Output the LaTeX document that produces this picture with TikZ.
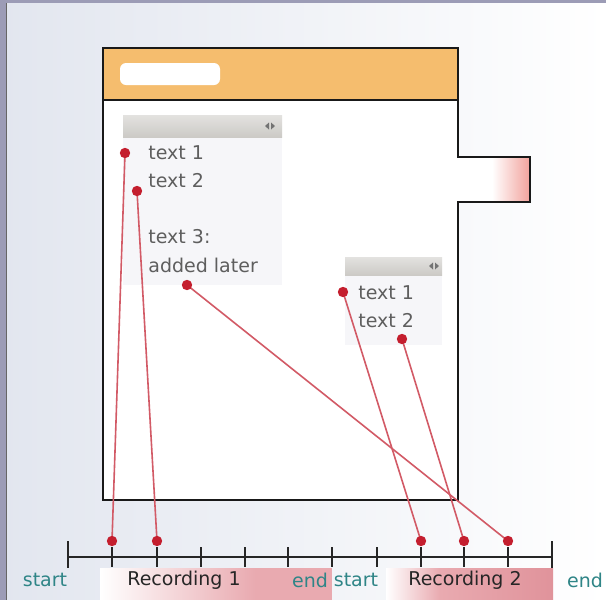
\documentclass[tikz,border=0pt]{standalone}
\usepackage{fontspec}
\setmainfont{DejaVu Sans}
\definecolor{frameblue}{HTML}{9C9CB6}
\definecolor{bgblue}{HTML}{E2E6EF}
\definecolor{headorange}{HTML}{F5BD6E}
\definecolor{tabpink}{HTML}{F2A29C}
\definecolor{dotred}{HTML}{C41E2E}
\definecolor{linkred}{HTML}{D25A66}
\definecolor{bandpink}{HTML}{E9AAB0}
\definecolor{banddark}{HTML}{E0939B}
\definecolor{tealtext}{HTML}{2F8587}
\definecolor{bargrey}{HTML}{CCCAC6}
\definecolor{panelbg}{HTML}{F6F6F9}
\definecolor{itemgrey}{HTML}{5E5E5E}
\tikzset{
  itemtext/.style={anchor=west, inner sep=0pt, text=itemgrey, font=\fontsize{9.5}{11}\selectfont},
  marktext/.style={inner sep=0pt, text=tealtext, font=\fontsize{9.5}{11}\selectfont},
  rectext/.style={inner sep=0pt, text=black!85, font=\fontsize{9.5}{11}\selectfont},
  link/.style={linkred, line width=0.8pt},
  dot/.style={fill=dotred},
  panelbar/.style={top color=bargrey!55, bottom color=bargrey},
}
\begin{document}
\begin{tikzpicture}[x=0.5pt,y=-0.5pt]
  \useasboundingbox (0,0) rectangle (606,600);
  % Background and frame
  \shade[left color=bgblue, right color=white] (0,0) rectangle (606,600);
  \fill[frameblue] (0,0) rectangle (606,3);
  \fill[frameblue] (0,0) rectangle (6,600);
  \draw[black!60, line width=0.4pt] (6,3) -- (6,600);

  % Window with tab
  \fill[white] (103,48) rectangle (458,500);
  \fill[white] (458,157) rectangle (492,202);
  \shade[left color=white, right color=tabpink] (492,157) rectangle (530,202);
  \fill[headorange] (103,48) rectangle (458,100);
  \fill[white, rounded corners=3pt] (120,63) rectangle (220,85);
  \draw[line width=0.9pt, black!90] (103,48) -- (458,48) -- (458,157) -- (530,157)
    -- (530,202) -- (458,202) -- (458,500) -- (103,500) -- cycle;
  \draw[line width=0.9pt, black!90] (103,100) -- (458,100);

  % Panel 1
  \fill[panelbg] (123,137) rectangle (282,285);
  \shade[panelbar] (123,115) rectangle (282,137);
  \fill[black!55] (265,126) -- (269,122.5) -- (269,129.5) -- cycle;
  \fill[black!55] (275,126) -- (271,122.5) -- (271,129.5) -- cycle;
  \node[itemtext] (a1) at (148,153) {text 1};
  \node[itemtext] (a2) at (148,181) {text 2};
  \node[itemtext] (a3) at (148,237) {text 3:};
  \node[itemtext] (a4) at (148,265) {added later};

  % Panel 2
  \fill[panelbg] (345,275) rectangle (442,345);
  \shade[panelbar] (345,257) rectangle (442,275);
  \fill[black!55] (429,266) -- (433,262.5) -- (433,269.5) -- cycle;
  \fill[black!55] (439,266) -- (435,262.5) -- (435,269.5) -- cycle;
  \node[itemtext] (b1) at (358,293) {text 1};
  \node[itemtext] (b2) at (358,321) {text 2};

  % Recording bands
  \shade[left color=white, right color=bandpink] (100,568) rectangle (255,600);
  \fill[bandpink] (255,568) rectangle (332,600);
  \shade[left color=white, right color=bandpink] (386,568) rectangle (440,600);
  \shade[left color=bandpink, right color=banddark] (440,568) rectangle (553,600);

  % Timeline
  \draw[line width=0.7pt, black!85] (68,557) -- (552,557);
  \draw[line width=0.7pt, black!85] (68,541) -- (68,568);
  \draw[line width=0.7pt, black!85] (552,541) -- (552,568);
  \foreach \x in {112,157,201,245,288,332,377,421,464,508}
    \draw[line width=0.7pt, black!85] (\x,547) -- (\x,567);

  \node[marktext] (s1) at (45,580) {start};
  \node[rectext] (r1) at (184,580) {Recording 1};
  \node[marktext] (e1) at (310,580) {end};
  \node[marktext] (s2) at (356,580) {start};
  \node[rectext] (r2) at (465,580) {Recording 2};
  \node[marktext] (e2) at (585,580) {end};

  % Anchor points
  \coordinate (pa1) at (125,153);
  \coordinate (pa2) at (137,191);
  \coordinate (pa3) at (187,285);
  \coordinate (pb1) at (343,292);
  \coordinate (pb2) at (402,339);
  \coordinate (ta1) at (112,541);
  \coordinate (ta2) at (157,541);
  \coordinate (ta3) at (508,541);
  \coordinate (tb1) at (421,541);
  \coordinate (tb2) at (464,541);

  % Links
  \draw[link] (pa1) -- (ta1);
  \draw[link] (pa2) -- (ta2);
  \draw[link] (pa3) -- (ta3);
  \draw[link] (pb1) -- (tb1);
  \draw[link] (pb2) -- (tb2);
  \foreach \p in {pa1,pa2,pa3,pb1,pb2,ta1,ta2,ta3,tb1,tb2}
    \fill[dot] (\p) circle[radius=2.6pt];
\end{tikzpicture}
\end{document}
